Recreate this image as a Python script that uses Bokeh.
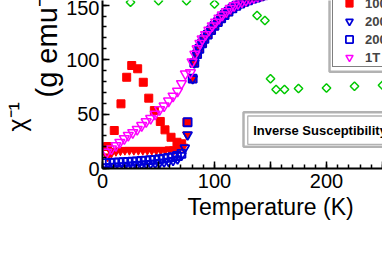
import math
from bokeh.plotting import figure
from bokeh.models import Range1d, FixedTicker, Legend, LegendItem, Label, BoxAnnotation, Title
from bokeh.embed import file_html
from bokeh.resources import INLINE

# ---------------- data ----------------
# shared high-temperature branch (all low-field series collapse here)
T_hi = [80.5, 82, 84.5, 86.5, 89, 91, 94, 97, 100, 103, 106, 109, 112.5, 116,
        119.5, 123, 126.5, 130, 133.5, 137, 140.5, 144, 147.5]
chi_hi = [82.5, 97, 105, 110, 115, 119, 123, 127, 131, 134.5, 138, 141, 144, 147,
          149.5, 151.5, 153, 154.5, 156, 157, 158, 159, 160]

# 100 Oe ZFC (filled red down-triangles)
T_zfc100 = [4.5, 8, 12, 16, 20, 24, 28, 32, 36, 40, 44, 48, 52, 56, 60, 64, 68, 72, 75.5]
chi_zfc100 = [11, 14.5, 16, 16.5, 17, 17, 17, 17, 17, 17, 17, 17, 17, 17, 17.5, 17.5, 18, 20, 31]

# 100 Oe FC (filled red squares)
T_fc100 = [4.6, 10.5, 16.5, 21.6, 26.1, 31.4, 36.4, 41.3, 46.3, 51.6, 55.8, 61.2, 66.5, 70.7, 75.4]
chi_fc100 = [20.2, 34.9, 59.4, 83.8, 94.6, 91.6, 79.2, 64.6, 53.2, 43.2, 35.5, 28.7, 24.1, 22.7, 42.5]

# 200 Oe ZFC (open blue down-triangles)
T_zfc200 = [3, 7, 11, 15, 19, 23, 27, 31, 35, 39, 43, 47, 51, 55, 59, 63, 67, 70.5, 73.5, 76]
chi_zfc200 = [1.5, 1.8, 2, 2.3, 2.6, 3, 3.3, 3.6, 4, 4.3, 4.7, 5, 5.5, 6, 6.6, 7.4, 8.8, 12, 19, 31]

# 200 Oe FC (open blue squares)
T_fc200 = [2.5, 6.5, 10.5, 14.5, 18.5, 22.5, 26.5, 30.5, 34.5, 38.5, 42.5, 46.5, 50.5,
           54.5, 58.5, 62.5, 66.5, 70.5, 76]
chi_fc200 = [5, 5.2, 5.4, 5.6, 5.8, 6, 6.3, 6.6, 7, 7.3, 7.7, 8, 8.5, 9, 9.7, 10.5, 11.5, 13.5, 42.5]

# 1T (open magenta down-triangles)
T_1T = [4, 8, 12, 15.5, 19.5, 23, 27, 31, 35, 39, 43, 47, 51, 55, 59, 63, 67, 70.5, 74,
        78.5, 80, 82.5, 84.5, 87, 89, 92, 95, 98, 101, 104, 107, 110.5, 114, 117.5, 121,
        124.5, 128, 131.5, 135, 138.5, 142, 145.5]
chi_1T = [15, 18, 21, 24, 27.5, 30.5, 33, 36, 39.5, 43, 46, 50, 54, 57.5, 62, 66.5, 71, 78, 87,
          88, 98, 105, 110, 115, 119, 123, 127, 131, 134.5, 138, 141, 144, 147, 149.5, 151.5,
          153, 154.5, 156, 157, 158, 159, 160]

# green open diamonds
T_green = [25, 50, 75, 100, 138, 145, 150, 155, 162.5, 175, 200, 225, 250]
chi_green = [152.7, 154, 154, 151, 140.5, 136, 82.5, 72.5, 72.5, 73.5, 74, 75.5, 76.5]

legend_labels = ["100 Oe ZFC", "100 Oe FC", "200 Oe ZFC", "200 Oe FC", "1T"]
x_major = [0, 50, 100, 150, 200, 250]
y_major = [0, 50, 100, 150]

FONT = "Liberation Sans"
RED, BLUE, MAG, GREEN = "#ff0000", "#0000d8", "#ff00ff", "#00c800"

p = figure(width=382, height=263, output_backend="svg", toolbar_location=None,
           x_range=Range1d(0, 250), y_range=Range1d(0, 154.3),
           min_border_left=102, min_border_right=0, min_border_top=0, min_border_bottom=95)
p.outline_line_color = None
p.xgrid.visible = False
p.ygrid.visible = False
p.background_fill_color = "white"
p.border_fill_color = "white"

for ax in (p.xaxis[0], p.yaxis[0]):
    ax.axis_line_width = 2
    ax.axis_line_color = "black"
    ax.major_tick_in = 7
    ax.major_tick_out = 0
    ax.minor_tick_in = 4
    ax.minor_tick_out = 0
    ax.major_tick_line_width = 1.5
    ax.minor_tick_line_width = 1.5
    ax.major_label_text_font = FONT
    ax.major_label_text_font_size = "20px"
    ax.major_label_text_color = "black"

p.xaxis[0].ticker = FixedTicker(ticks=x_major, minor_ticks=list(range(0, 260, 10)))
p.xaxis[0].major_label_overrides = {50: "", 150: "", 250: ""}
p.xaxis[0].major_label_standoff = 5
p.yaxis[0].ticker = FixedTicker(ticks=y_major, minor_ticks=list(range(0, 160, 10)))
p.yaxis[0].major_label_standoff = 3

r_fc100 = p.scatter(T_fc100 + T_hi, chi_fc100 + chi_hi, marker="square", size=8,
                    fill_color=RED, line_color=RED)
r_zfc100 = p.scatter(T_zfc100 + T_hi, chi_zfc100 + chi_hi, marker="inverted_triangle", size=9,
                     fill_color=RED, line_color=RED)
r_zfc200 = p.scatter(T_zfc200 + T_hi, chi_zfc200 + chi_hi, marker="inverted_triangle", size=9,
                     fill_color=None, line_color=BLUE, line_width=1.8)
r_fc200 = p.scatter(T_fc200 + T_hi, chi_fc200 + chi_hi, marker="square", size=8,
                    fill_color=None, line_color=BLUE, line_width=1.8)
r_1T = p.scatter(T_1T, chi_1T, marker="inverted_triangle", size=10,
                 fill_color=None, line_color=MAG, line_width=1.5)
r_green = p.scatter(T_green, chi_green, marker="square", angle=math.pi / 4, size=6,
                    fill_color=None, line_color=GREEN, line_width=1.5)

# legend with double frame
p.add_layout(BoxAnnotation(left=202.7, right=400, bottom=88.8, top=400,
                           fill_color=None, line_color="black", line_width=2.5))
legend = Legend(items=[LegendItem(label=l, renderers=[r]) for l, r in
                       zip(legend_labels, [r_zfc100, r_fc100, r_zfc200, r_fc200, r_1T])],
                location=(230, 101), padding=0, margin=0, glyph_width=32, glyph_height=18,
                label_height=18, spacing=-4, label_standoff=0,
                label_text_font=FONT, label_text_font_size="13px", label_text_font_style="bold",
                border_line_color="black", border_line_width=1.3,
                background_fill_color="white", background_fill_alpha=1.0)
p.add_layout(legend)

# "Inverse Susceptibility" box
p.add_layout(BoxAnnotation(left=125.9, right=400, bottom=20.0, top=51.7,
                           fill_color="white", fill_alpha=1.0, line_color="black", line_width=2.5))
p.add_layout(BoxAnnotation(left=129.7, right=400, bottom=22.2, top=48.2,
                           fill_color=None, line_color="black", line_width=1.3))
p.add_layout(Label(x=150.7, y=38.5, x_units="screen", y_units="screen",
                   text="Inverse Susceptibility", text_font=FONT, text_font_size="13px",
                   text_font_style="bold", text_baseline="middle", text_color="black"))

# axis titles
p.add_layout(Title(text="Temperature (K)", align="left", offset=85, standoff=2,
                   text_font=FONT, text_font_size="23px", text_font_style="normal",
                   text_color="black"), "below")
p.add_layout(Title(text="(g emu⁻¹ Oe)", align="left", offset=71, standoff=2,
                   text_font=FONT, text_font_size="29px", text_font_style="normal",
                   text_color="black"), "left")
p.add_layout(Title(text="χ⁻¹", align="left", offset=37, standoff=-6,
                   text_font=FONT, text_font_size="25px", text_font_style="normal",
                   text_color="black"), "left")

open("out.html", "w").write(file_html(p, INLINE))
